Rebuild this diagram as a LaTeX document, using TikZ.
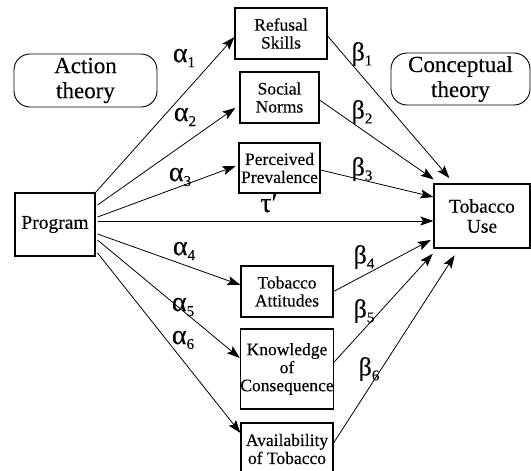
\documentclass[tikz,border=0pt]{standalone}
\usepackage{fontspec}
\setmainfont{Liberation Serif}[FakeBold=0.3]
\usetikzlibrary{arrows.meta}
\newcommand\gsub[2]{#1\raisebox{-5pt}{\fontsize{15}{15}\selectfont #2}}
\begin{document}
\begin{tikzpicture}[x=1pt,y=-1pt,
  box/.style={draw, line width=1.1pt, inner sep=0pt, align=center, font=\fontsize{17.5}{18}\selectfont},
  bigbox/.style={draw, line width=1.1pt, inner sep=0pt, align=center, font=\fontsize{19.5}{20}\selectfont},
  theory/.style={draw, line width=0.9pt, rounded corners=16pt, inner sep=0pt, align=center, font=\fontsize{23}{25}\selectfont},
  conn/.style={line width=0.8pt, -{Stealth[length=13pt,width=9pt,inset=2.5pt]}},
  lab/.style={inner sep=0pt, font=\fontsize{28}{28}\selectfont},
  blab/.style={inner sep=0pt, font=\fontsize{26}{26}\selectfont},
]
\useasboundingbox (0,0) rectangle (531,471);
% theory boxes
\node[theory, minimum width=143pt, minimum height=53pt] (act) at (85.5,80.5) {Action\\theory};
\node[theory, minimum width=139pt, minimum height=52pt] (con) at (460.5,79) {Conceptual\\theory};
% main boxes
\node[bigbox, minimum width=80pt, minimum height=63pt] (prog) at (55,224.5) {Program};
\node[bigbox, minimum width=96pt, minimum height=64pt] (tu) at (482,216) {Tobacco\\Use};
% mediators
\node[box, minimum width=92pt, minimum height=51pt] (ref) at (281,33.5) {Refusal\\Skills};
\node[box, minimum width=79pt, minimum height=51pt] (soc) at (279.5,97.5) {Social\\Norms};
\node[box, minimum width=81pt, minimum height=50pt] (per) at (279.5,168) {Perceived\\Prevalence};
\node[box, minimum width=92pt, minimum height=51pt] (att) at (287,291.5) {Tobacco\\Attitudes};
\node[box, minimum width=92pt, minimum height=80pt] (kno) at (287,369) {Knowledge\\of\\Consequence};
\node[box, minimum width=92pt, minimum height=52pt] (ava) at (287,449) {Availability\\of Tobacco};
% alpha paths
\draw[conn] (prog.north east) -- ([yshift=-3.5pt]ref.west);
\draw[conn, shorten >=5pt] ([xshift=2pt,yshift=19.5pt]prog.east) -- ([yshift=-7.5pt]soc.west);
\draw[conn, shorten >=3pt] ([xshift=2pt,yshift=7.5pt]prog.east) -- ([yshift=3pt]per.west);
\draw[conn] ([xshift=2pt,yshift=3.5pt]prog.east) -- ([yshift=-5pt]tu.west);
\draw[conn] ([xshift=2pt,yshift=-9.5pt]prog.east) -- ([yshift=6.5pt]att.west);
\draw[conn] ([xshift=2pt,yshift=-15.5pt]prog.east) -- ([yshift=11pt]kno.west);
\draw[conn] ([xshift=2pt,yshift=-28.5pt]prog.east) -- ([yshift=16pt]ava.west);
% beta paths
\draw[conn, shorten >=7pt] ([yshift=-2.5pt]ref.east) -- ([xshift=-28pt]tu.north);
\draw[conn, shorten >=7pt] ([yshift=-2.5pt]soc.east) -- ([xshift=6pt]tu.north west);
\draw[conn] ([yshift=-2pt]per.east) -- ([yshift=19pt]tu.west);
\draw[conn, shorten >=3pt] (att.east) -- ([yshift=10pt]tu.south west);
\draw[conn, shorten >=7pt] ([yshift=7pt]kno.east) -- ([xshift=4pt]tu.south west);
\draw[conn, shorten >=8pt] ([yshift=6pt]ava.east) -- ([xshift=-23pt]tu.south);
% labels
\node[lab] (a1) at (184,58) {\gsub{α}{1}};
\node[lab] (a2) at (185,117) {\gsub{α}{2}};
\node[lab] (a3) at (180,177) {\gsub{α}{3}};
\node[lab] (a4) at (184,251) {\gsub{α}{4}};
\node[lab] (a5) at (183,307) {\gsub{α}{5}};
\node[lab] (a6) at (183,340) {\gsub{α}{6}};
\node[lab] (tau) at (269,203) {τ′};
\node[blab] (b1) at (362,54) {\gsub{β}{1}};
\node[blab] (b2) at (362,112) {\gsub{β}{2}};
\node[blab] (b3) at (362,169) {\gsub{β}{3}};
\node[blab] (b4) at (364,257) {\gsub{β}{4}};
\node[blab] (b5) at (364,311) {\gsub{β}{5}};
\node[blab] (b6) at (369,369) {\gsub{β}{6}};
\end{tikzpicture}
\end{document}
